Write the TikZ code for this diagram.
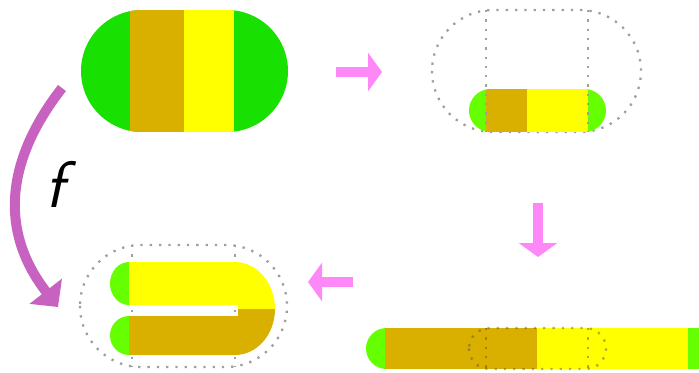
\documentclass[tikz,border=0pt]{standalone}
\usetikzlibrary{arrows.meta}
\definecolor{ggreen}{HTML}{18E000}
\definecolor{lgreen}{HTML}{66FF00}
\definecolor{gold}{HTML}{DAB000}
\definecolor{yel}{HTML}{FFFF00}
\definecolor{pinkc}{HTML}{FF88F8}
\definecolor{orchidc}{HTML}{C862C0}
\tikzset{
  dots/.style={draw=gray!75, line width=2.3bp, dash pattern=on 2.3bp off 7bp},
  darkdots/.style={draw=black!70, draw opacity=0.45, line width=2.3bp, dash pattern=on 2.3bp off 7bp},
  pinkarrow/.style={draw=pinkc, line width=10bp, -{Triangle[width=38bp,length=14bp]}},
  farrow/.style={draw=orchidc, line width=10bp, -{Triangle[width=40bp,length=20bp]}},
  flabel/.style={font=\sffamily\itshape\fontsize{66}{66}\selectfont, inner sep=0pt},
}
\begin{document}
\begin{tikzpicture}[x=1bp,y=-1bp]
\useasboundingbox (0,0) rectangle (699,372);
% ---- top-left : original cylinder
\begin{scope}
  \clip[rounded corners=61bp] (81,10) rectangle (288,132);
  \fill[ggreen] (81,10) rectangle (288,132);
  \fill[gold] (130,10) rectangle (184,132);
  \fill[yel] (184,10) rectangle (234,132);
\end{scope}
% ---- top-right : squashed
\draw[dots, rounded corners=61bp] (432,10) rectangle (641,132);
\begin{scope}
  \clip[rounded corners=21.5bp] (469,89) rectangle (606,132);
  \fill[lgreen] (469,89) rectangle (606,132);
  \fill[gold] (486,89) rectangle (527,132);
  \fill[yel] (527,89) rectangle (588,132);
\end{scope}
\draw[dots] (486,10) -- (486,132) (588,10) -- (588,132);
% ---- bottom-right : stretched strip
\begin{scope}
  \clip (0,0) rectangle (699,372);
  \clip[rounded corners=20.5bp] (366,328) rectangle (740,369);
  \fill[lgreen] (366,328) rectangle (740,369);
  \fill[gold] (385,328) rectangle (537,369);
  \fill[yel] (537,328) rectangle (688,369);
\end{scope}
\draw[darkdots, rounded corners=20.5bp] (469,328) rectangle (606,369);
\draw[darkdots] (486,328) -- (486,369) (588,328) -- (588,369);
% ---- bottom-left : folded
\draw[dots, rounded corners=61bp] (80,245) rectangle (287,367);
\draw[dots] (132,245) -- (132,367) (235,245) -- (235,367);
\fill[lgreen] (129,262) arc[start angle=90, end angle=270, x radius=19bp, y radius=21.5bp] -- cycle;
\fill[lgreen] (129,316) arc[start angle=90, end angle=270, x radius=19bp, y radius=19.5bp] -- cycle;
\fill[yel] (129,262) -- (235,262) arc[start angle=90, end angle=0, x radius=40bp, y radius=47bp]
  -- (238,309) -- (238,305) -- (129,305) -- cycle;
\fill[gold] (129,316) -- (238,316) -- (238,309) -- (275,309)
  arc[start angle=0, end angle=-90, x radius=40bp, y radius=46bp] -- (129,355) -- cycle;
% ---- arrows
\coordinate (a1s) at (336,72);  \coordinate (a1e) at (382,72);
\coordinate (a2s) at (538,203); \coordinate (a2e) at (538,257);
\coordinate (a3s) at (353,282); \coordinate (a3e) at (308,282);
\coordinate (fs) at (62,88);    \coordinate (fe) at (58,307);
\draw[pinkarrow] (a1s) -- (a1e);
\draw[pinkarrow] (a2s) -- (a2e);
\draw[pinkarrow] (a3s) -- (a3e);
\draw[farrow] (fs) .. controls (2,165) and (2,235) .. (fe);
\node[flabel] (flab) at (55,184) {f};
\end{tikzpicture}
\end{document}
